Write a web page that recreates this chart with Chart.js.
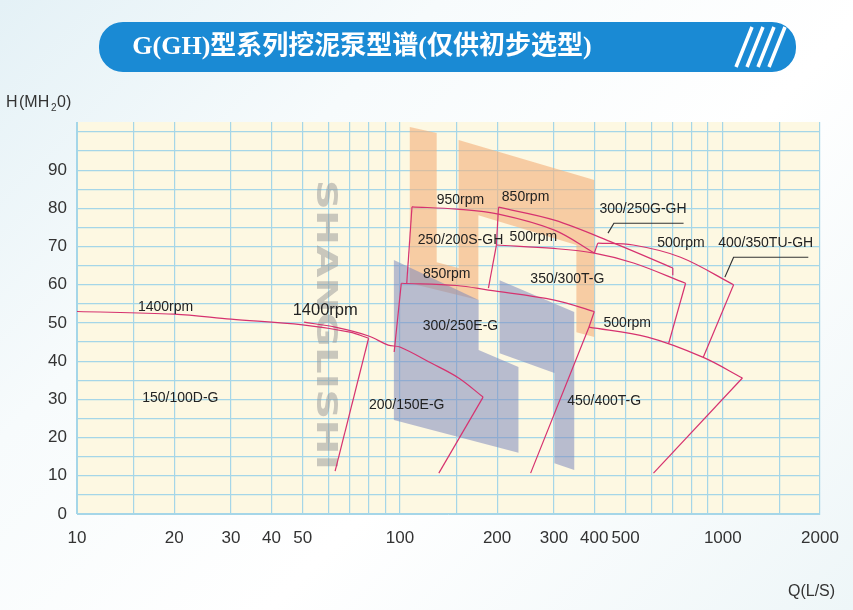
<!DOCTYPE html>
<html><head><meta charset="utf-8">
<script src="https://cdn.jsdelivr.net/npm/chart.js@4"></script>
<style>
html,body{margin:0;padding:0;width:853px;height:610px;overflow:hidden;
background:linear-gradient(135deg,#e4f1f6 0%,#f7fbfc 30%,#ffffff 60%,#eef6f8 100%);}
#c{position:absolute;left:0;top:0;}
</style></head><body>
<canvas id="c" width="853" height="610"></canvas>
<script>
// ---- data (Q in L/s, H in m) ----
const xTickValues=[10,15,20,30,40,50,60,70,80,90,100,150,200,300,400,500,600,700,800,900,1000,1500,2000];
const xTickLabels=[10,20,30,40,50,100,200,300,400,500,1000,2000];
const yTickValues=[0,5,10,15,20,25,30,35,40,45,50,55,60,65,70,75,80,85,90,95,100];
const yTickLabels=[0,10,20,30,40,50,60,70,80,90];

const curve150_100D=[[10,53],[20,52.3],[30,51],[50,49.5],[70,47.6],[80,46],[63,11.2]];
const curve200_150E=[[50.5,50.2],[63,48.9],[80,46.6],[92,44.2],[100,43.7],[125,39.5],[152,35.6],[181,30.6],[132,10.7]];
const curve300_250E=[[96,42.4],[101,60.4],[150,59.8],[188,58.6],[301,56],[400,53],[385,48.9],[254,10.7]];
const curve250_200S=[[105,60.4],[109,80.4],[150,79.8],[202,78.5],[301,74.3],[400,68.3]];
const curve350_300T=[[188,59.1],[199,70.4],[300,69.5],[400,68.3],[529,65.7],[767,60.4],[680,44.7]];
const curve300_250G=[[199,70.4],[202,80.3],[301,76.9],[460,70.9],[700,64.4],[700,62.5]];
const curve400_350TU=[[400,68.3],[410,70.9],[528,70.4],[740,67.2],[1080,60],[870,41]];
const curve450_400T=[[385,48.9],[585,46.3],[870,41],[1150,35.6],[610,10.7]];
const leader300_250G=[[441,73.5],[460,76.1],[756,76.1]];
const leader400_350TU=[[1015,62],[1080,67.2],[1840,67.2]];

const wmOrange=[[107.3,101.3],[130,99.7],[130,65.9],[152,64.4],[152,97.9],[400,87.4],[400,46.3],[352,47.6],[352,70.4],[175,78.2],[175,56],[107.3,60.4]];
const wmBlueLeft=[[95.8,66.5],[175.3,56],[175.3,42.9],[232.9,38.5],[232.9,16],[95.8,24.6]];
const wmBlueRight=[[203.6,61.2],[346.7,52.9],[346.7,11.5],[300.9,13.3],[300.9,36.9],[203.6,42.1]];

const labels=[
 ["1400rpm",18.8,54.2,14],["1400rpm",58.7,53.4,16.5],["150/100D-G",20.9,30.4,14],
 ["200/150E-G",105,28.5,14],["300/250E-G",154,49.2,14],["850rpm",139.6,62.8,14],
 ["250/200S-GH",154,71.7,14],["500rpm",259,72.5,14],["950rpm",154,82.2,14],
 ["850rpm",245,82.9,14],["300/250G-GH",566,79.8,14],["500rpm",742,70.9,14],
 ["400/350TU-GH",1358,70.9,14],["350/300T-G",330,61.5,14],["500rpm",506,50,14],
 ["450/400T-G",429,29.6,14]
];
const shapes=[[wmOrange,'rgba(244,178,125,0.62)'],[wmBlueLeft,'rgba(128,138,190,0.55)'],[wmBlueRight,'rgba(128,138,190,0.55)']];

const pts=a=>a.map(p=>({x:p[0],y:p[1]}));
const LINE='#d6326f';
function lineDs(a,color,t){return {data:pts(a),borderColor:color||LINE,borderWidth:1.2,pointRadius:0,showLine:true,fill:false,tension:t||0};}
// curve, then [start,end] index range of the smooth head-flow curve
const models=[[curve150_100D,0,5],[curve200_150E,0,7],[curve300_250E,1,5],[curve250_200S,1,5],
 [curve350_300T,1,5],[curve300_250G,1,4],[curve400_350TU,1,4],[curve450_400T,0,3]];
const datasets=[];
models.forEach(([a,s,e])=>{
 if(s>0)datasets.push(lineDs(a.slice(0,s+1)));
 datasets.push(lineDs(a.slice(s,e+1),LINE,0.35));
 if(e<a.length-1)datasets.push(lineDs(a.slice(e)));
});
datasets.push(lineDs(leader300_250G,'#333'),lineDs(leader400_350TU,'#333'));

const decor={id:'decor',
 beforeDraw(ch){
  const c=ch.ctx,a=ch.chartArea;
  c.save();c.fillStyle='#fdf8e2';c.fillRect(a.left,a.top,a.right-a.left,a.bottom-a.top);c.restore();
  c.save();
  c.fillStyle='#1a8ad4';
  c.beginPath();c.moveTo(122,22);c.lineTo(773,22);c.arcTo(796,22,796,47,24);c.arcTo(796,72,773,72,24);
  c.lineTo(122,72);c.arcTo(99,72,99,47,24);c.arcTo(99,22,122,22,24);c.fill();
  c.strokeStyle='#fff';c.lineWidth=3.5;
  for(let i=0;i<4;i++){const x=738+i*11;c.beginPath();c.moveTo(x+14,27);c.lineTo(x-2,67);c.stroke();}
  c.fillStyle='#fff';c.font='bold 26px "Liberation Serif","Noto Sans CJK SC",serif';
  c.textAlign='center';c.textBaseline='middle';
  c.fillText('G(GH)型系列挖泥泵型谱(仅供初步选型)',362,47);
  c.fillStyle='#333';c.font='16px "Liberation Sans",Arial,sans-serif';c.textAlign='left';
  c.fillText('H',6,103);c.fillText('(MH',19,103);
  c.font='10px "Liberation Sans",sans-serif';c.fillText('2',51,108);
  c.font='16px "Liberation Sans",sans-serif';c.fillText('0)',57,103);
  c.fillText('Q(L/S)',788,592);
  c.restore();
 },
 beforeDatasetsDraw(ch){
  const c=ch.ctx,xs=ch.scales.x,ys=ch.scales.y;
  c.save();
  shapes.forEach(([poly,col])=>{c.fillStyle=col;c.beginPath();
   poly.forEach((p,i)=>{const X=xs.getPixelForValue(p[0]),Y=ys.getPixelForValue(p[1]);i?c.lineTo(X,Y):c.moveTo(X,Y);});
   c.closePath();c.fill();});
  const x0=xs.getPixelForValue(58.5),y0=ys.getPixelForValue(87.5),y1=ys.getPixelForValue(11.5);
  c.translate(x0,y0);
  c.rotate(Math.PI/2);
  c.fillStyle='rgba(150,150,150,0.5)';c.font='bold 28px "DejaVu Sans",sans-serif';
  const w=c.measureText('SHANGLISHI').width;
  c.scale((y1-y0)/w,1);
  c.textBaseline='middle';c.textAlign='left';
  c.fillText('SHANGLISHI',0,0);
  c.restore();
 },
 afterDatasetsDraw(ch){
  const c=ch.ctx,xs=ch.scales.x,ys=ch.scales.y;
  c.save();c.fillStyle='#222';c.textAlign='center';c.textBaseline='middle';
  labels.forEach(l=>{c.font=l[3]+'px "Liberation Sans",Arial,sans-serif';
   c.fillText(l[0],xs.getPixelForValue(l[1]),ys.getPixelForValue(l[2]));});
  c.restore();
 }};

new Chart(document.getElementById('c'),{
 type:'scatter',
 data:{datasets},
 options:{responsive:false,animation:false,
  layout:{padding:{top:122,right:33,left:0,bottom:0}},
  plugins:{legend:{display:false},tooltip:{enabled:false}},
  scales:{
   x:{type:'logarithmic',min:10,max:2000,
    afterBuildTicks:s=>{s.ticks=xTickValues.map(v=>({value:v}));},
    afterFit:s=>{s.height=96;},
    ticks:{autoSkip:false,maxRotation:0,padding:14,color:'#333',font:{size:17,family:'"Liberation Sans",Arial,sans-serif'},
     callback:(v)=>xTickLabels.includes(v)?String(v):''},
    grid:{color:'#a5d6e8',lineWidth:1.2,drawTicks:false},border:{display:true,color:'#a5d6e8'}},
   y:{min:0,max:102.6,
    afterBuildTicks:s=>{s.ticks=yTickValues.map(v=>({value:v}));},
    afterFit:s=>{s.width=77;},
    ticks:{autoSkip:false,padding:10,color:'#333',font:{size:17,family:'"Liberation Sans",Arial,sans-serif'},
     callback:(v)=>yTickLabels.includes(v)?String(v):''},
    grid:{color:'#a5d6e8',lineWidth:1.2,drawTicks:false},border:{display:true,color:'#a5d6e8'}}
  }},
 plugins:[decor]
});
</script></body></html>
